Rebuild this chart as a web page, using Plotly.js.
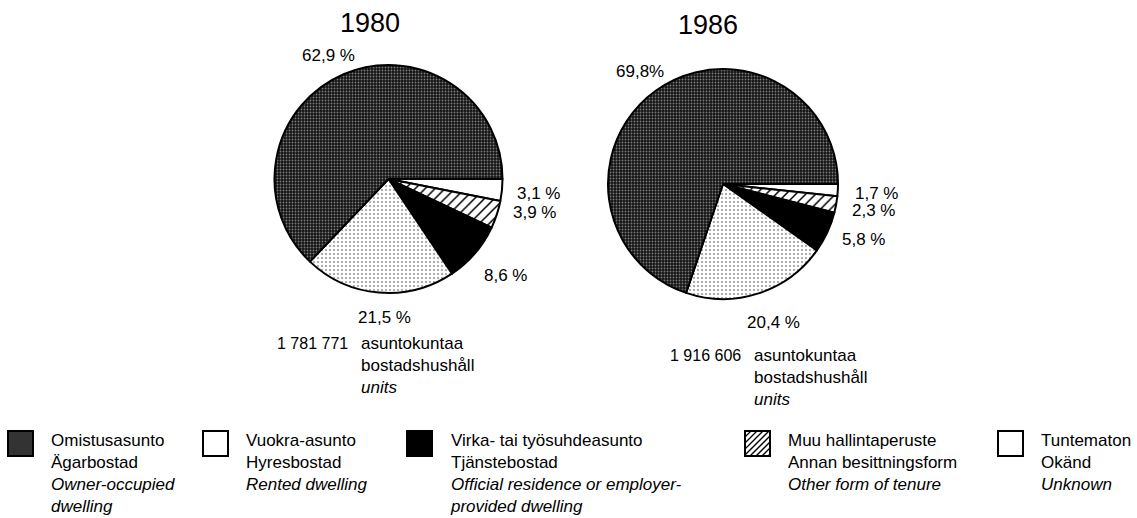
<!DOCTYPE html>
<html>
<head>
<meta charset="utf-8">
<script src="https://cdn.plot.ly/plotly-3.0.1.min.js"></script>
<style>html,body{margin:0;padding:0;background:#fff;}#chart{width:1137px;height:518px;}</style>
</head>
<body>
<div id="chart"></div>
<script>
// ---- data ----
const categoriesFi = ["Omistusasunto", "Vuokra-asunto", "Virka- tai työsuhdeasunto", "Muu hallintaperuste", "Tuntematon"];
const categoriesSv = ["Ägarbostad", "Hyresbostad", "Tjänstebostad", "Annan besittningsform", "Okänd"];
const categoriesEn = ["Owner-occupied<br>dwelling", "Rented dwelling", "Official residence or employer-<br>provided dwelling", "Other form of tenure", "Unknown"];
const years = ["1980", "1986"];
const share1980 = [62.9, 21.5, 8.6, 3.9, 3.1];
const share1986 = [69.8, 20.4, 5.8, 2.3, 1.7];
const households = [1781771, 1916606];
const unitFi = "asuntokuntaa", unitSv = "bostadshushåll", unitEn = "units";

// ---- helpers ----
const W = 1137, H = 518;
const px = x => x / W;
const py = y => 1 - y / H;
const FONT = '"Liberation Sans", Arial, Helvetica, sans-serif';
const fmtPct = (v, sp) => v.toFixed(1).replace('.', ',') + (sp ? ' %' : '%');
const fmtNum = n => String(n).replace(/\B(?=(\d{3})+(?!\d))/g, ' ');

// slice styles (legend order)
const fills = ['#1e1e1e', '#f4f4f4', '#000000', '#ffffff', '#ffffff'];
const patShape = ['.', '.', '', '/', ''];
const patFg = ['#7a7a7a', '#9a9a9a', '#000000', '#000000', '#000000'];
const patBg = ['#141414', '#ffffff', '#000000', '#ffffff', '#ffffff'];
const patSize = [3, 4, 8, 7, 8];
const patSolid = [0.3, 0.22, 0.3, 0.22, 0.3];
const rev = a => a.slice().reverse();

function pieTrace(vals, dom) {
  return {
    type: 'pie', values: rev(vals), labels: rev(categoriesFi), sort: false,
    direction: 'clockwise', rotation: 90, textinfo: 'none', hoverinfo: 'label+percent',
    showlegend: false, domain: dom,
    marker: {
      colors: rev(fills), line: {color: '#000', width: 2},
      pattern: {shape: rev(patShape), fgcolor: rev(patFg), bgcolor: rev(patBg), size: rev(patSize), solidity: rev(patSolid), fillmode: 'replace'}
    }
  };
}

const traces = [
  pieTrace(share1980, {x: [px(274), px(503)], y: [py(293), py(65)]}),
  pieTrace(share1986, {x: [px(608), px(838)], y: [py(300), py(68)]})
];

const ann = [];
const shapes = [];
function txt(x, y, text, size, xa, ya) {
  ann.push({xref: 'paper', yref: 'paper', x: px(x), y: py(y), text: text, showarrow: false,
    xanchor: xa || 'center', yanchor: ya || 'middle', align: 'left', font: {family: FONT, size: size, color: '#000'}});
}

// titles
txt(370, 23, years[0], 27);
txt(708, 25, years[1], 27);

// percent labels 1980
txt(328, 55, fmtPct(share1980[0], true), 17);
txt(384, 317, fmtPct(share1980[1], true), 17);
txt(482, 275, fmtPct(share1980[2], true), 17, 'left');
txt(511, 212, fmtPct(share1980[3], true), 17, 'left');
txt(515, 193, fmtPct(share1980[4], true), 17, 'left');
// percent labels 1986
txt(640, 72, fmtPct(share1986[0], false), 17);
txt(773, 322, fmtPct(share1986[1], true), 17);
txt(840, 240, fmtPct(share1986[2], true), 17, 'left');
txt(850, 211, fmtPct(share1986[3], true), 17, 'left');
txt(853, 193, fmtPct(share1986[4], true), 17, 'left');

// household counts
const unitBlock = unitFi + '<br>' + unitSv + '<br><i>' + unitEn + '</i>';
txt(350, 343, fmtNum(households[0]), 16, 'right');
txt(359, 332, unitBlock, 17, 'left', 'top');
txt(743, 355, fmtNum(households[1]), 16, 'right');
txt(752, 344, unitBlock, 17, 'left', 'top');

// legend
const legX = [8, 203, 407, 745, 998];
const legY = 431, S = 25, LF = 17;
const symFill = ['#333333', '#ffffff', '#000000', '#ffffff', '#ffffff'];
for (let i = 0; i < 5; i++) {
  const x0 = legX[i];
  shapes.push({type: 'rect', xref: 'paper', yref: 'paper', x0: px(x0), x1: px(x0 + S), y0: py(legY + S), y1: py(legY),
    fillcolor: symFill[i], line: {color: '#000', width: 2}});
  if (i === 3) {
    for (let d = -S + 6; d < S; d += 6) {
      const u0 = Math.max(0, -d), u1 = Math.min(S, S - d);
      shapes.push({type: 'line', xref: 'paper', yref: 'paper',
        x0: px(x0 + d + u0), y0: py(legY + S - u0), x1: px(x0 + d + u1), y1: py(legY + S - u1),
        line: {color: '#000', width: 1.3}});
    }
  }
  txt(x0 + 41, legY - 2, categoriesFi[i] + '<br>' + categoriesSv[i] + '<br><i>' + categoriesEn[i] + '</i>', LF, 'left', 'top');
}

const layout = {
  width: W, height: H, margin: {l: 0, r: 0, t: 0, b: 0},
  paper_bgcolor: '#fff', plot_bgcolor: '#fff',
  font: {family: FONT, color: '#000'},
  annotations: ann, shapes: shapes
};
Plotly.newPlot('chart', traces, layout, {displayModeBar: false, staticPlot: true});
</script>
</body>
</html>
